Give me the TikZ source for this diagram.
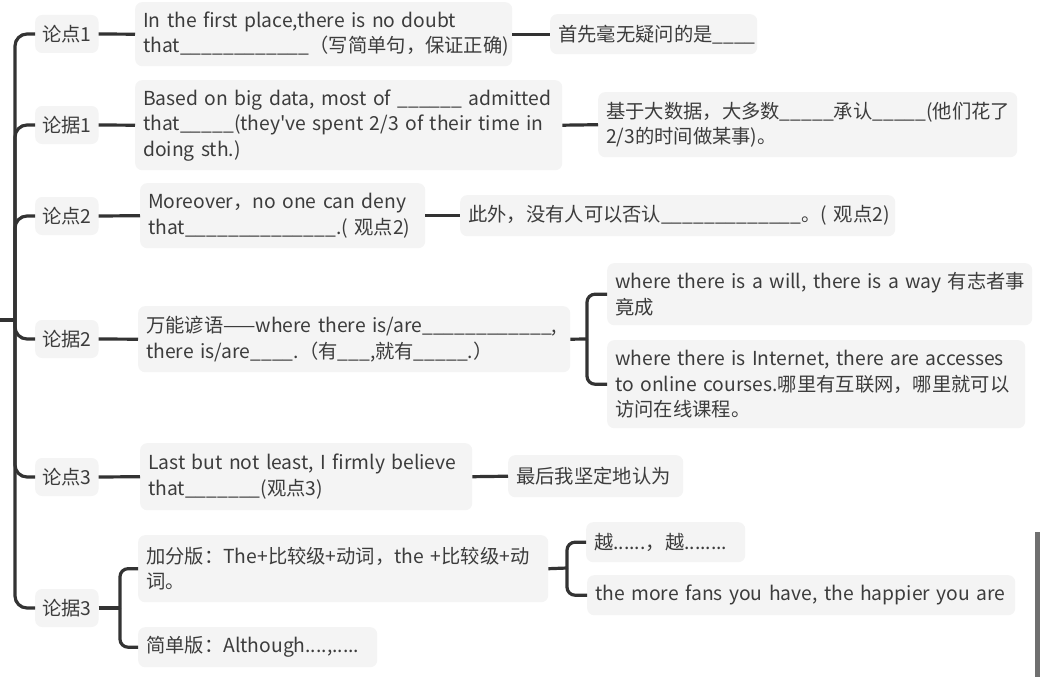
\documentclass[tikz,border=0pt]{standalone}
\usepackage{fontspec}
\setmainfont{Noto Sans CJK SC}[Ligatures=TeXOff]
\definecolor{ink}{HTML}{333333}
\definecolor{cardbg}{HTML}{F4F4F4}
\definecolor{txt}{HTML}{3C3C3C}
\definecolor{scrollgray}{HTML}{707070}
\newcommand\blnk[1]{\foreach\ii in {1,...,#1}{\_}}
\begin{document}
\begin{tikzpicture}[x=1pt,y=-1pt,
  every node/.style={text=txt, font=\fontsize{19.3}{25.5}\selectfont},
  card/.style={rounded corners=7pt, fill=cardbg, inner xsep=8pt, inner ysep=3pt, anchor=north west, align=left},
  lbl/.style={rounded corners=7pt, fill=cardbg, inner xsep=7pt, minimum height=38pt, anchor=west},
  link/.style={draw=ink, line width=3.2pt},
  brace/.style={link, rounded corners=8pt},
  trunk/.style={link, rounded corners=12pt},
]
\useasboundingbox (0,0) rectangle (1040,677);
\fill[white] (0,0) rectangle (1040,677);

% level-1 labels
\node[lbl] (L1) at (35,34) {论点1};
\node[lbl] (L2) at (35,125) {论据1};
\node[lbl] (L3) at (35,216) {论点2};
\node[lbl] (L4) at (35,339) {论据2};
\node[lbl] (L5) at (35,477) {论点3};
\node[lbl] (L6) at (35,608) {论据3};

% cards
\node[card, text width=361pt, minimum height=64pt] (A1) at (135,2)
  {\mbox{In the first place,there is no doubt}\\ that\blnk{12}（写简单句，保证正确)};
\node[card, text width=191pt, minimum height=40pt] (C1) at (550,14)
  {首先毫无疑问的是\blnk{4}};
\node[card, text width=411pt, minimum height=90pt] (B1) at (135,80)
  {\mbox{Based on big data, most of \blnk{6} admitted}\\ \mbox{that\blnk{5}(they've spent 2/3 of their time in}\\ doing sth.)};
\node[card, text width=403pt, minimum height=65pt] (C2) at (598,92)
  {基于大数据，大多数\blnk{5}承认\blnk{5}(他们花了\\ 2/3的时间做某事)。};
\node[card, text width=269pt, minimum height=65pt] (A2) at (140,183)
  {\mbox{Moreover，no one can deny}\\ \mbox{that\blnk{14}.( 观点2)}};
\node[card, text width=419pt, minimum height=41pt] (C3) at (460,195)
  {\mbox{此外，没有人可以否认\blnk{13}。( 观点2)}};
\node[card, text width=416pt, minimum height=66pt] (B2) at (138,306)
  {\mbox{万能谚语——where there is/are\blnk{12},}\\ \mbox{there is/are\blnk{4}.（有\blnk{3},就有\blnk{5}.）}};
\node[card, text width=409pt, minimum height=62pt] (D1) at (607,263)
  {\mbox{where there is a will, there is a way 有志者事}\\ 竟成};
\node[card, text width=402pt, minimum height=88pt] (D2) at (607,340)
  {\mbox{where there is Internet, there are accesses}\\ \mbox{to online courses.哪里有互联网，哪里就可以}\\ 访问在线课程。};
\node[card, text width=316pt, minimum height=67pt] (A3) at (140,443)
  {\mbox{Last but not least, I firmly believe}\\ that\blnk{7}(观点3)};
\node[card, text width=159pt, minimum height=42pt] (C5) at (508,455)
  {最后我坚定地认为};
\node[card, text width=394pt, minimum height=67pt] (E1) at (138,535)
  {\mbox{加分版：The+比较级+动词，the +比较级+动}\\ 词。};
\node[card, text width=223pt, minimum height=40pt] (E2) at (138,627)
  {简单版：Although....,.....};
\node[card, text width=143pt, minimum height=40pt] (F1) at (586,522)
  {\mbox{越......，越........}};
\node[card, text width=412pt, minimum height=40pt] (F2) at (587,575)
  {\mbox{the more fans you have, the happier you are}};

% trunk
\coordinate (rootin) at (0,320);
\coordinate (root) at (15,320);
\draw[link] (rootin) -- (root);
\foreach \n in {L1,L2,L3,L4,L5,L6}{
  \draw[trunk] (root) |- (\n.west);
}

% straight links
\draw[link] (L1.east) -- (A1.west);
\draw[link] (A1.east) -- (C1.west);
\draw[link] (L2.east) -- (B1.west);
\draw[link] (B1.east) -- (C2.west);
\draw[link] (L3.east) -- (A2.west);
\draw[link] (A2.east) -- (C3.west);
\draw[link] (L4.east) -- (B2.west);
\draw[link] (L5.east) -- (A3.west);
\draw[link] (A3.east) -- (C5.west);

% braces
\coordinate (b2) at (587,339);
\draw[link] (B2.east) -- (b2);
\draw[brace] (b2) |- (D1.west);
\draw[brace] (b2) |- (D2.west);

\coordinate (b6) at (120,608);
\draw[link] (L6.east) -- (b6);
\draw[brace] (b6) |- (E1.west);
\draw[brace] (b6) |- (E2.west);

\coordinate (b7) at (567,568);
\draw[link] (E1.east) -- (b7);
\draw[brace] (b7) |- (F1.west);
\draw[brace] (b7) |- (F2.west);

% scrollbar
\fill[scrollgray] (1035,532) rectangle (1040,677);
\end{tikzpicture}
\end{document}
